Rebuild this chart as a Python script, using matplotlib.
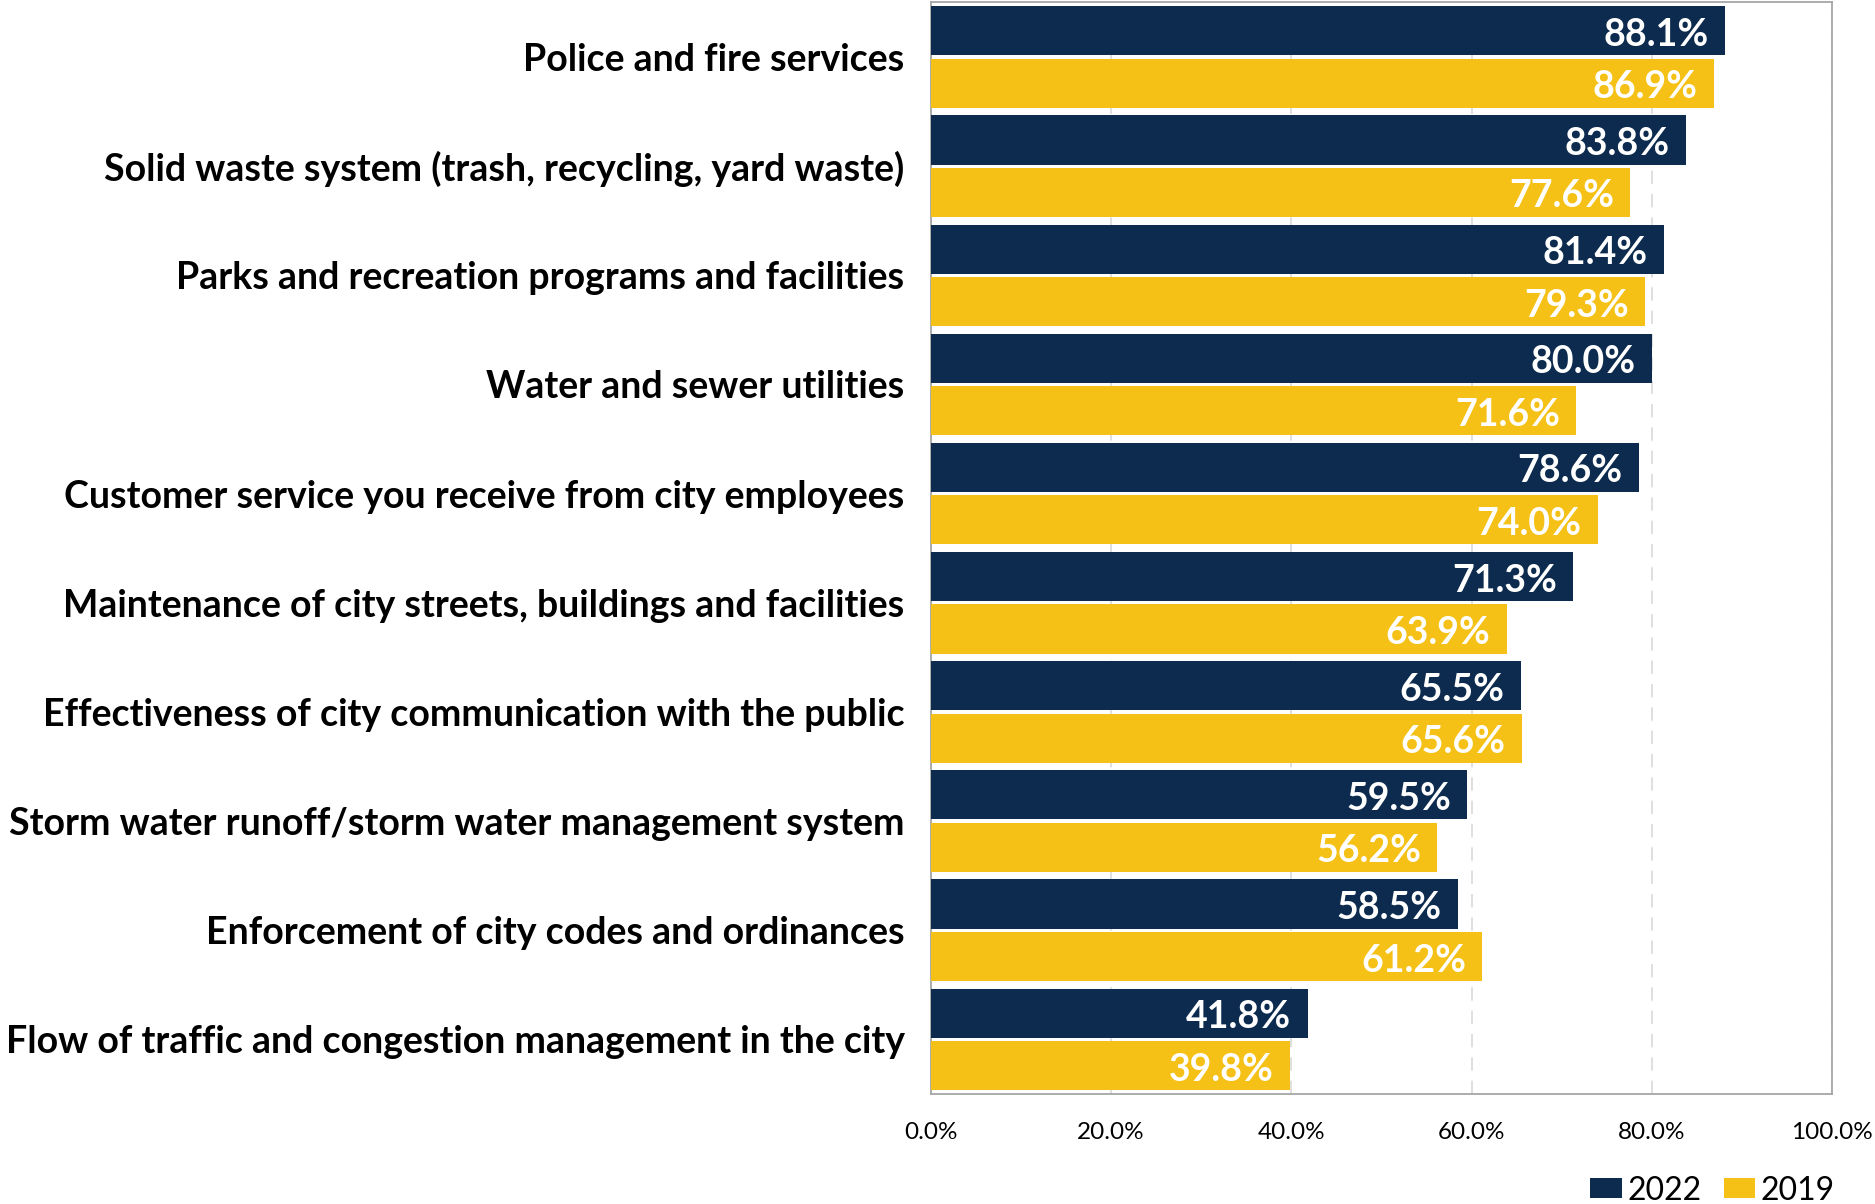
import matplotlib.pyplot as plt
import numpy as np

categories = [
    "Police and fire services",
    "Solid waste system (trash, recycling, yard waste)",
    "Parks and recreation programs and facilities",
    "Water and sewer utilities",
    "Customer service you receive from city employees",
    "Maintenance of city streets, buildings and facilities",
    "Effectiveness of city communication with the public",
    "Storm water runoff/storm water management system",
    "Enforcement of city codes and ordinances",
    "Flow of traffic and congestion management in the city",
]
vals_2022 = [88.1, 83.8, 81.4, 80.0, 78.6, 71.3, 65.5, 59.5, 58.5, 41.8]
vals_2019 = [86.9, 77.6, 79.3, 71.6, 74.0, 63.9, 65.6, 56.2, 61.2, 39.8]

navy = "#0c2b4e"
gold = "#f5c116"
police = "Lato"

fig = plt.figure(figsize=(18.75, 12.04), dpi=100)
ax = fig.add_axes([0.4965, 0.0914, 0.4805, 0.9066])

y = np.arange(len(categories))
h = 0.45
off = 0.24
b1 = ax.barh(y - off, vals_2022, height=h, color=navy, label="2022", zorder=3)
b2 = ax.barh(y + off, vals_2019, height=h, color=gold, label="2019", zorder=3)

for bars, vals in ((b1, vals_2022), (b2, vals_2019)):
    for bar, v in zip(bars, vals):
        ax.text(v - 1.8, bar.get_y() + bar.get_height() / 2 + 0.01, f"{v:.1f}%",
                ha="right", va="center_baseline", color="white", fontsize=27,
                fontweight="bold", family=police, zorder=4)

ax.set_xlim(0, 100)
ax.set_ylim(len(categories) - 0.5, -0.5)
ax.set_xticks(np.arange(0, 101, 20))
ax.set_xticklabels([f"{t:.1f}%" for t in range(0, 101, 20)], fontsize=17.5, family=police)
ax.set_yticks(y)
ax.set_yticklabels(categories, fontsize=27, fontweight="bold", family=police)
ax.tick_params(axis="both", length=0)
ax.tick_params(axis="x", pad=20)
ax.tick_params(axis="y", pad=19)
ax.xaxis.grid(True, color="#d9d9d9", linestyle=(0, (8, 6)), linewidth=1.2, zorder=0)

for s in ax.spines.values():
    s.set_color("#a6a6a6")
    s.set_linewidth(1.3)

ax.legend(loc="lower right", bbox_to_anchor=(1.017, -0.114), ncol=2, frameon=False,
          prop={"family": police, "size": 23}, handlelength=1.0, handleheight=0.6,
          handletextpad=0.15, columnspacing=0.7, borderaxespad=0)

fig.savefig("out.png", dpi=100)
